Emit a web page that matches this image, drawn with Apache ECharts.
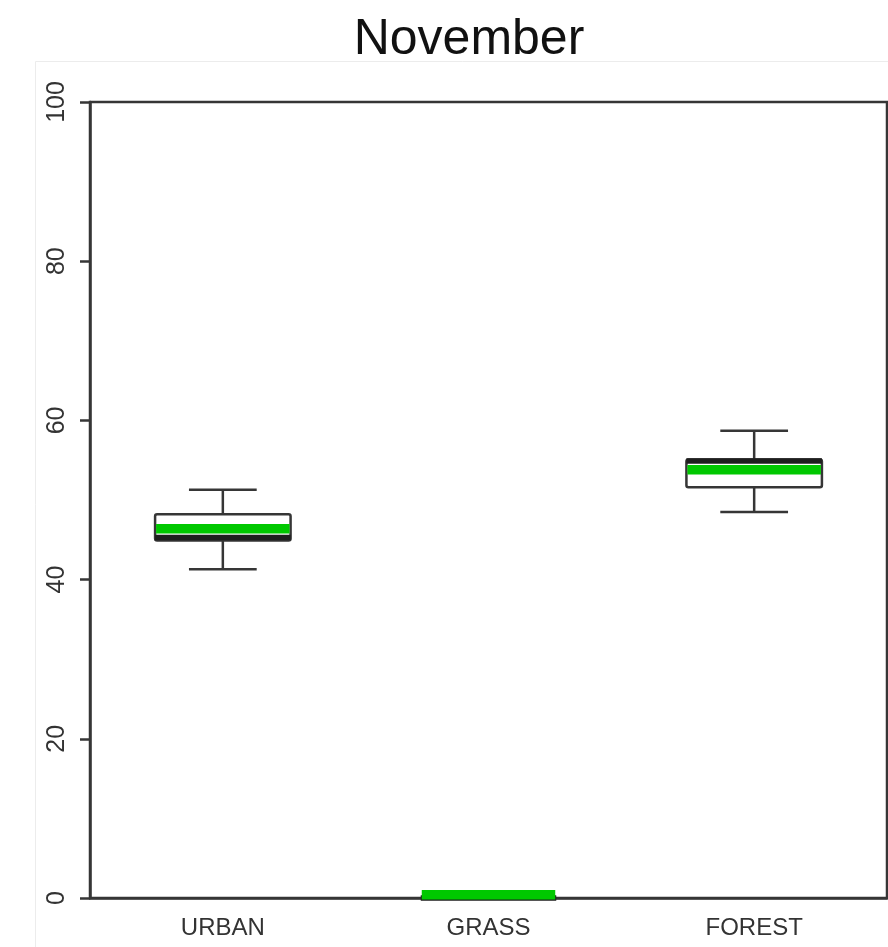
<!DOCTYPE html>
<html>
<head>
<meta charset="utf-8">
<script src="https://cdn.jsdelivr.net/npm/echarts@6/dist/echarts.min.js"></script>
<style>html,body{margin:0;padding:0;background:#fff}#c{width:888px;height:947px}</style>
</head>
<body>
<div id="c"></div>
<script>
const categories = ['URBAN', 'GRASS', 'FOREST'];
const whiskerLow = [41.3, 0, 48.5];
const q1 = [44.9, 0, 51.6];
const median = [45.3, 0, 54.9];
const q3 = [48.2, 0, 55.1];
const whiskerHigh = [51.3, 0, 58.7];
const mean = [46.4, 0.4, 53.8];
const yTicks = [0, 20, 40, 60, 80, 100];

const seriesData = categories.map((c, i) => [i, whiskerLow[i], q1[i], median[i], q3[i], whiskerHigh[i], mean[i]]);

const dark = '#363636';
const green = '#00c800';

const chart = echarts.init(document.getElementById('c'), null, { renderer: 'canvas' });
chart.setOption({
  backgroundColor: '#ffffff',
  animation: false,
  title: {
    text: 'November',
    left: 464,
    textAlign: 'center',
    top: 10,
    textStyle: { fontFamily: 'Liberation Sans', fontSize: 50, fontWeight: 'normal', color: '#111' }
  },
  graphic: [{
    type: 'rect', z: -10, silent: true,
    shape: { x: 35.5, y: 61.5, width: 900, height: 900 },
    style: { fill: 'none', stroke: '#ececec', lineWidth: 1 }
  }],
  grid: { left: 90, right: 1, top: 102, bottom: 49, show: true, borderColor: dark, borderWidth: 2.5, backgroundColor: 'transparent' },
  xAxis: {
    type: 'category',
    data: categories,
    boundaryGap: true,
    axisLine: { lineStyle: { color: dark, width: 2.5 } },
    axisTick: { alignWithLabel: true, length: 10, lineStyle: { color: dark, width: 2.5 } },
    axisLabel: { fontFamily: 'Liberation Sans', fontSize: 24, color: '#333', margin: 18 },
    splitLine: { show: false }
  },
  yAxis: {
    type: 'value',
    min: 0, max: 100, interval: 20,
    axisLine: { show: true, lineStyle: { color: dark, width: 2.5 } },
    axisTick: { show: true, length: 10, lineStyle: { color: dark, width: 2.5 } },
    axisLabel: {
      fontFamily: 'Liberation Sans', fontSize: 25, color: '#333', rotate: 90, margin: 20,
      formatter: v => (yTicks.indexOf(v) >= 0 ? String(v) : '')
    },
    splitLine: { show: false }
  },
  series: [{
    type: 'custom',
    data: seriesData,
    encode: { x: 0, y: [1, 2, 3, 4, 5, 6] },
    clip: false,
    renderItem: function (params, api) {
      const idx = api.value(0);
      const pLow = api.coord([idx, api.value(1)]);
      const pQ1 = api.coord([idx, api.value(2)]);
      const pMed = api.coord([idx, api.value(3)]);
      const pQ3 = api.coord([idx, api.value(4)]);
      const pHigh = api.coord([idx, api.value(5)]);
      const pMean = api.coord([idx, api.value(6)]);
      const band = api.size([1, 0])[0];
      const bw = band * 0.51;
      const cw = bw * 0.5;
      const cx = pQ1[0];
      const ls = { stroke: dark, lineWidth: 2.5, fill: null };
      return {
        type: 'group',
        children: [
          { type: 'line', shape: { x1: cx, y1: pQ3[1], x2: cx, y2: pHigh[1] }, style: ls },
          { type: 'line', shape: { x1: cx, y1: pQ1[1], x2: cx, y2: pLow[1] }, style: ls },
          { type: 'line', shape: { x1: cx - cw / 2, y1: pHigh[1], x2: cx + cw / 2, y2: pHigh[1] }, style: ls },
          { type: 'line', shape: { x1: cx - cw / 2, y1: pLow[1], x2: cx + cw / 2, y2: pLow[1] }, style: ls },
          { type: 'rect', shape: { x: cx - bw / 2, y: pQ3[1], width: bw, height: pQ1[1] - pQ3[1], r: 2 },
            style: { fill: '#fff', stroke: dark, lineWidth: 2.5 } },
          { type: 'line', shape: { x1: cx - bw / 2, y1: pMed[1], x2: cx + bw / 2, y2: pMed[1] },
            style: { stroke: '#1e1e1e', lineWidth: 5.5 } },
          { type: 'line', shape: { x1: cx - bw / 2 + 1, y1: pMean[1], x2: cx + bw / 2 - 1, y2: pMean[1] },
            style: { stroke: green, lineWidth: 9.5 } }
        ]
      };
    }
  }]
});
</script>
</body>
</html>
